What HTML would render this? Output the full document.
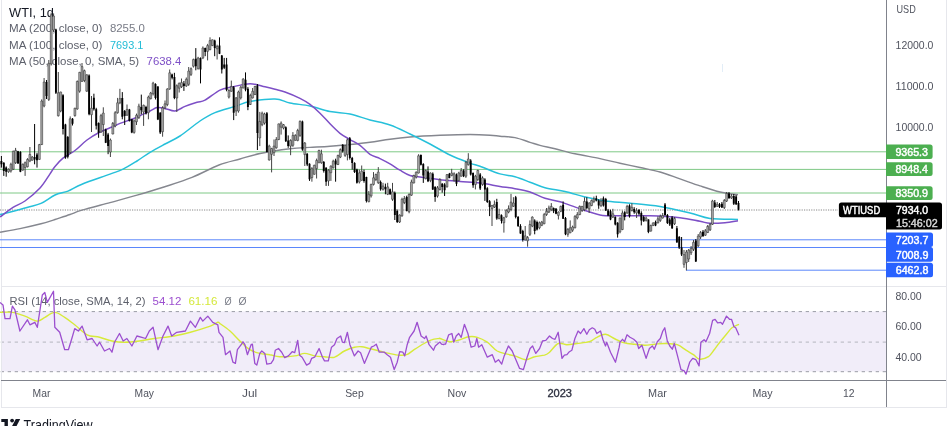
<!DOCTYPE html>
<html><head><meta charset="utf-8"><style>
html,body{margin:0;padding:0;background:#fff;width:949px;height:426px;overflow:hidden}
svg{display:block;font-family:"Liberation Sans",sans-serif;will-change:transform}
</style></head><body>
<svg width="949" height="426" viewBox="0 0 949 426" style="display:block">
<rect width="949" height="426" fill="#fff"/>
<rect x="1" y="311.5" width="885" height="60" fill="#f1edf9"/>
<line x1="0.7" y1="311.6" x2="886" y2="311.6" stroke="#9a9ca6" stroke-width="1" stroke-dasharray="3.3 3.7"/>
<line x1="0.7" y1="342.1" x2="886" y2="342.1" stroke="#b4b6be" stroke-width="1" stroke-dasharray="3.3 3.7"/>
<line x1="0.7" y1="371.7" x2="886" y2="371.7" stroke="#9a9ca6" stroke-width="1" stroke-dasharray="3.3 3.7"/>
<line x1="1.5" y1="0" x2="1.5" y2="407" stroke="#e6e7ec" stroke-width="1"/>
<line x1="946.5" y1="0" x2="946.5" y2="407" stroke="#e6e7ec" stroke-width="1"/>
<line x1="1" y1="407.5" x2="947" y2="407.5" stroke="#e6e7ec" stroke-width="1"/>
<line x1="1" y1="286.5" x2="946" y2="286.5" stroke="#e6e7ec" stroke-width="1"/>
<line x1="0" y1="151.8" x2="886" y2="151.8" stroke="#7fc986" stroke-width="1"/>
<line x1="0" y1="169.4" x2="886" y2="169.4" stroke="#7fc986" stroke-width="1"/>
<line x1="0" y1="193.0" x2="886" y2="193.0" stroke="#7fc986" stroke-width="1"/>
<line x1="0" y1="239.8" x2="886" y2="239.8" stroke="#5b87fb" stroke-width="1"/>
<line x1="0" y1="247.5" x2="886" y2="247.5" stroke="#5b87fb" stroke-width="1"/>
<line x1="686" y1="270.2" x2="886" y2="270.2" stroke="#5b87fb" stroke-width="1"/>
<line x1="0" y1="210" x2="838" y2="210" stroke="#888" stroke-width="1" stroke-dasharray="1.2 1.2"/>
<path d="M0.0 232.2C3.3 231.6 13.2 230.0 20.0 228.6C26.8 227.2 35.2 225.3 41.0 223.8C46.8 222.3 50.2 221.1 55.0 219.5C59.8 217.9 65.5 216.1 70.0 214.5C74.5 212.9 75.3 212.2 82.0 210.2C88.7 208.2 100.8 205.1 110.0 202.6C119.2 200.1 128.0 197.8 137.0 195.2C146.0 192.6 154.8 190.0 164.0 187.0C173.2 184.0 182.8 181.1 192.0 177.4C201.2 173.7 211.0 168.1 219.0 165.0C227.0 161.9 233.2 160.9 240.0 159.0C246.8 157.1 251.7 155.2 260.0 153.5C268.3 151.8 281.7 149.8 290.0 148.8C298.3 147.8 303.3 147.8 310.0 147.4C316.7 147.0 323.3 146.7 330.0 146.2C336.7 145.7 343.3 145.2 350.0 144.5C356.7 143.8 363.3 143.1 370.0 142.2C376.7 141.3 383.3 140.1 390.0 139.2C396.7 138.3 401.7 137.7 410.0 137.0C418.3 136.3 430.0 135.7 440.0 135.3C450.0 134.9 461.7 134.5 470.0 134.5C478.3 134.5 485.0 134.9 490.0 135.2C495.0 135.5 495.8 135.8 500.0 136.2C504.2 136.6 510.0 136.6 515.0 137.6C520.0 138.6 525.8 141.0 530.0 142.3C534.2 143.6 535.8 144.3 540.0 145.4C544.2 146.5 549.2 147.3 555.0 148.7C560.8 150.1 567.5 152.2 575.0 153.8C582.5 155.5 592.5 157.0 600.0 158.6C607.5 160.2 613.3 161.7 620.0 163.2C626.7 164.7 633.3 166.0 640.0 167.5C646.7 169.0 653.3 170.1 660.0 172.0C666.7 173.9 673.3 176.6 680.0 178.9C686.7 181.2 693.3 183.7 700.0 185.9C706.7 188.1 713.7 190.5 720.0 192.0C726.3 193.5 735.0 194.3 738.0 194.8" fill="none" stroke="#85878f" stroke-width="1.4"/>
<path d="M0.0 214.6C4.5 213.4 20.2 209.4 27.0 207.5C33.8 205.6 36.3 205.5 41.0 203.4C45.7 201.3 50.5 197.1 55.0 195.0C59.5 192.9 63.5 192.9 68.0 191.1C72.5 189.3 75.0 187.0 82.0 184.2C89.0 181.4 103.2 176.6 110.0 174.1C116.8 171.6 118.5 171.4 123.0 169.2C127.5 167.0 132.5 163.8 137.0 161.0C141.5 158.2 145.3 155.1 150.0 152.3C154.7 149.5 160.0 146.7 165.0 144.0C170.0 141.3 174.2 139.8 180.0 136.0C185.8 132.2 194.2 124.9 200.0 121.0C205.8 117.1 209.2 115.0 215.0 112.6C220.8 110.2 229.2 108.2 235.0 106.4C240.8 104.6 243.3 102.7 250.0 101.5C256.7 100.3 268.3 98.8 275.0 99.0C281.7 99.2 284.2 101.8 290.0 103.0C295.8 104.2 303.3 104.6 310.0 106.0C316.7 107.4 323.3 110.2 330.0 111.5C336.7 112.8 343.3 112.6 350.0 114.0C356.7 115.4 363.3 118.2 370.0 120.0C376.7 121.8 383.3 122.7 390.0 125.0C396.7 127.3 403.3 130.8 410.0 134.0C416.7 137.2 423.3 140.5 430.0 144.0C436.7 147.5 443.3 151.8 450.0 155.0C456.7 158.2 465.0 161.2 470.0 163.1C475.0 165.0 475.0 164.5 480.0 166.3C485.0 168.1 494.2 172.2 500.0 173.9C505.8 175.6 510.0 175.3 515.0 176.7C520.0 178.1 525.0 180.3 530.0 182.2C535.0 184.0 539.2 186.2 545.0 187.8C550.8 189.4 558.3 190.0 565.0 191.5C571.7 193.0 578.3 195.4 585.0 197.0C591.7 198.6 597.5 200.0 605.0 201.0C612.5 202.0 620.8 202.3 630.0 203.2C639.2 204.1 650.0 204.9 660.0 206.5C670.0 208.1 681.7 211.0 690.0 213.0C698.3 215.0 702.0 217.4 710.0 218.5C718.0 219.6 733.3 219.2 738.0 219.4" fill="none" stroke="#26c0da" stroke-width="1.5"/>
<path d="M0.0 217.0C2.2 215.4 8.8 210.1 13.0 207.4C17.2 204.7 20.5 204.2 25.0 201.0C29.5 197.8 35.8 192.5 40.0 188.0C44.2 183.5 47.5 177.5 50.0 173.9C52.5 170.3 52.8 169.1 55.0 166.5C57.2 163.9 59.7 160.9 63.0 158.2C66.3 155.5 71.0 153.5 75.0 150.5C79.0 147.5 82.8 143.1 87.0 140.0C91.2 136.9 95.8 134.2 100.0 132.0C104.2 129.8 108.7 128.4 112.0 127.0C115.3 125.6 116.2 124.9 120.0 123.4C123.8 121.9 130.0 120.1 135.0 118.0C140.0 115.9 146.3 112.7 150.0 111.0C153.7 109.3 154.5 108.0 157.0 107.6C159.5 107.2 162.0 107.8 165.0 108.4C168.0 109.0 171.7 111.3 175.0 111.0C178.3 110.7 181.3 107.9 185.0 106.4C188.7 104.9 193.7 103.2 197.0 102.2C200.3 101.2 201.2 102.2 205.0 100.2C208.8 98.2 215.5 92.3 220.0 90.1C224.5 87.9 227.0 88.1 232.0 87.0C237.0 85.9 244.5 83.7 250.0 83.7C255.5 83.7 260.8 85.9 265.0 86.8C269.2 87.7 271.7 88.3 275.0 89.2C278.3 90.1 280.8 90.5 285.0 92.0C289.2 93.5 295.8 96.3 300.0 98.4C304.2 100.5 306.7 101.9 310.0 104.4C313.3 106.9 316.7 110.0 320.0 113.2C323.3 116.4 326.7 120.4 330.0 123.8C333.3 127.2 336.7 130.7 340.0 133.3C343.3 135.9 346.7 137.6 350.0 139.6C353.3 141.6 356.7 142.8 360.0 145.3C363.3 147.8 366.7 152.2 370.0 154.4C373.3 156.6 376.7 157.0 380.0 158.6C383.3 160.2 386.7 162.0 390.0 163.9C393.3 165.8 396.7 168.3 400.0 170.2C403.3 172.1 406.7 174.4 410.0 175.5C413.3 176.6 415.0 176.3 420.0 177.0C425.0 177.7 433.3 179.0 440.0 179.7C446.7 180.4 453.3 180.8 460.0 181.4C466.7 182.0 473.3 182.3 480.0 183.1C486.7 183.9 494.2 185.5 500.0 186.4C505.8 187.3 510.0 187.8 515.0 188.7C520.0 189.6 525.0 190.4 530.0 192.0C535.0 193.6 540.0 196.6 545.0 198.2C550.0 199.8 554.2 200.0 560.0 201.8C565.8 203.6 573.3 206.6 580.0 208.8C586.7 211.0 593.3 213.7 600.0 214.9C606.7 216.1 611.7 215.7 620.0 215.8C628.3 216.0 640.0 215.5 650.0 215.8C660.0 216.1 671.7 216.8 680.0 217.7C688.3 218.6 695.0 220.4 700.0 221.3C705.0 222.2 705.8 223.1 710.0 223.3C714.2 223.5 720.3 223.1 725.0 222.7C729.7 222.3 735.8 221.1 738.0 220.8" fill="none" stroke="#7d4fc6" stroke-width="1.5"/>
<g font-family="Liberation Sans, sans-serif">
<text x="9.1" y="17.0" font-size="13" fill="#131722" font-weight="normal" textLength="44.8" lengthAdjust="spacingAndGlyphs">WTI, 1d</text>
<text x="9.1" y="32.2" font-size="11" fill="#5d606b" font-weight="normal" textLength="93.3" lengthAdjust="spacingAndGlyphs">MA (200, close, 0)</text>
<text x="109.9" y="32.2" font-size="11" fill="#787b86" font-weight="normal" textLength="34.9" lengthAdjust="spacingAndGlyphs">8255.0</text>
<text x="9.1" y="48.7" font-size="11" fill="#5d606b" font-weight="normal" textLength="93.3" lengthAdjust="spacingAndGlyphs">MA (100, close, 0)</text>
<text x="109.9" y="48.7" font-size="11" fill="#22bcd6" font-weight="normal" textLength="33.5" lengthAdjust="spacingAndGlyphs">7693.1</text>
<text x="9.1" y="65.2" font-size="11" fill="#5d606b" font-weight="normal" textLength="130.0" lengthAdjust="spacingAndGlyphs">MA (50, close, 0, SMA, 5)</text>
<text x="146.6" y="65.2" font-size="11" fill="#7d4fc6" font-weight="normal" textLength="34.8" lengthAdjust="spacingAndGlyphs">7638.4</text>
<text x="9.5" y="305.1" font-size="11" fill="#5d606b" font-weight="normal" textLength="135.9" lengthAdjust="spacingAndGlyphs">RSI (14, close, SMA, 14, 2)</text>
<text x="152.6" y="305.1" font-size="11" fill="#9c4fcf" font-weight="normal" textLength="28.8" lengthAdjust="spacingAndGlyphs">54.12</text>
<text x="188.4" y="305.1" font-size="11" fill="#d4e83a" font-weight="normal" textLength="29.0" lengthAdjust="spacingAndGlyphs">61.16</text>
<text x="224.5" y="305.1" font-size="11" fill="#787b86" font-weight="normal" textLength="7.1" lengthAdjust="spacingAndGlyphs">&#216;</text>
<text x="238.6" y="305.1" font-size="11" fill="#787b86" font-weight="normal" textLength="8.0" lengthAdjust="spacingAndGlyphs">&#216;</text>
</g>
<path d="M-0.9 158.0V172.0 M8.5 168.4V172.8 M10.9 162.7V172.6 M13.3 150.7V169.9 M15.6 147.9V164.0 M22.8 163.5V170.7 M25.1 161.5V175.9 M27.5 158.2V167.4 M29.9 147.0V162.2 M32.2 156.0V160.7 M39.4 143.9V159.9 M41.7 99.4V145.0 M44.1 78.0V107.3 M48.8 60.0V101.0 M51.2 12.7V65.5 M53.6 13.4V32.0 M58.3 72.0V116.5 M60.7 91.7V112.3 M70.2 116.4V154.0 M74.9 107.8V116.7 M77.3 80.5V109.7 M79.6 71.9V92.7 M82.0 63.0V81.7 M84.4 69.6V82.2 M86.8 74.3V91.8 M91.5 96.0V132.0 M101.0 113.9V132.8 M103.3 107.3V136.0 M110.4 138.5V157.0 M112.8 122.0V134.3 M115.2 111.1V127.3 M117.6 97.9V113.7 M119.9 88.8V104.2 M127.0 104.5V115.8 M134.1 119.5V133.7 M136.5 113.6V125.0 M138.9 103.7V119.0 M143.6 104.6V125.9 M148.4 95.6V119.3 M150.7 91.9V99.4 M153.1 81.8V95.5 M162.6 106.2V136.7 M165.0 100.5V109.3 M167.3 88.2V106.2 M169.7 69.5V89.8 M176.8 84.4V112.0 M179.2 82.6V92.5 M181.5 78.5V88.0 M186.3 77.5V86.9 M188.7 67.0V85.9 M191.0 67.4V76.0 M193.4 58.6V67.6 M198.1 56.8V69.5 M202.9 46.4V59.1 M207.6 43.9V60.4 M210.0 37.3V50.2 M212.4 39.5V46.1 M217.1 44.7V59.5 M228.9 89.2V98.5 M231.3 80.6V91.7 M236.1 97.1V116.0 M238.4 90.6V112.7 M240.8 85.7V99.5 M243.2 78.2V88.4 M250.3 93.7V105.0 M252.6 88.0V98.5 M255.0 85.9V95.0 M259.8 111.9V146.1 M262.1 111.6V126.2 M264.5 112.7V124.6 M269.2 144.7V160.6 M271.6 147.8V172.4 M274.0 139.5V156.0 M276.3 137.1V148.7 M278.7 123.6V140.2 M281.1 121.4V134.6 M283.5 124.0V129.4 M290.6 139.3V155.2 M292.9 132.1V146.9 M295.3 134.2V140.7 M297.7 128.8V141.3 M300.0 120.4V136.9 M304.8 142.0V166.0 M311.9 167.1V181.7 M314.3 164.7V174.6 M316.6 158.6V178.5 M319.0 149.7V163.1 M321.4 149.7V163.8 M328.5 169.2V185.9 M330.9 165.3V180.9 M333.2 159.7V168.5 M338.0 154.7V165.1 M340.3 148.4V158.1 M345.1 145.2V156.9 M347.4 138.5V160.4 M359.3 169.6V183.5 M361.7 165.5V180.7 M368.8 191.0V202.3 M371.1 183.7V197.6 M373.5 172.1V185.5 M375.9 173.6V181.1 M378.3 167.1V183.9 M383.0 182.8V190.6 M387.7 182.8V195.1 M392.5 182.9V200.9 M399.6 214.4V223.0 M402.0 197.7V216.8 M404.3 196.0V204.1 M409.1 193.4V213.3 M411.4 179.6V195.9 M413.8 174.7V183.5 M416.2 171.4V178.5 M418.6 154.2V173.5 M425.7 169.5V179.3 M430.4 172.4V182.2 M437.5 186.0V197.6 M439.9 178.2V190.5 M447.0 174.1V187.5 M451.7 168.8V176.3 M454.1 172.3V181.7 M458.8 171.8V181.4 M461.2 168.0V176.7 M465.9 160.9V177.9 M468.3 153.2V165.6 M475.4 174.8V189.4 M477.8 169.7V181.1 M482.5 176.3V185.8 M492.0 205.0V226.0 M494.4 200.5V208.0 M499.1 208.7V219.3 M503.9 216.8V232.6 M506.2 209.2V217.8 M508.6 205.4V213.3 M511.0 193.9V211.2 M513.4 197.2V206.9 M525.2 226.0V240.5 M527.6 236.0V246.7 M529.9 220.4V236.0 M532.3 216.3V227.2 M539.4 221.5V229.3 M541.8 220.9V226.2 M544.2 212.9V224.3 M546.5 208.0V215.9 M548.9 205.6V213.0 M551.3 203.1V211.1 M558.4 211.4V219.5 M560.8 205.6V212.2 M567.9 228.1V236.8 M570.2 220.4V233.3 M572.6 225.6V231.9 M575.0 215.2V228.4 M577.3 212.1V219.4 M579.7 205.5V215.2 M582.1 205.9V212.0 M584.5 197.3V211.2 M589.2 202.1V213.0 M591.6 199.5V206.2 M593.9 196.5V203.1 M601.0 198.2V207.1 M612.9 208.8V218.0 M620.0 217.6V233.3 M622.4 210.6V230.2 M627.1 204.8V213.9 M631.9 203.2V211.4 M636.6 208.1V218.0 M646.1 216.5V221.6 M650.8 224.7V231.6 M653.2 222.4V226.1 M657.9 216.3V223.4 M660.3 214.6V221.9 M662.7 213.0V218.6 M674.5 217.0V225.0 M684.0 250.0V267.8 M686.4 250.0V270.4 M688.7 249.0V262.0 M691.1 246.0V255.0 M693.5 240.0V251.0 M698.2 234.0V247.0 M700.6 231.0V239.0 M705.3 229.0V236.0 M707.7 225.0V233.0 M710.1 223.0V231.0 M712.4 199.8V225.0 M717.2 202.0V207.0 M724.3 199.0V209.0 M726.6 192.0V202.0 M731.4 194.0V199.0" stroke="#444" stroke-width="1" fill="none"/>
<path d="M1.4 156.0V167.6 M3.8 162.2V175.9 M6.2 166.4V176.7 M18.0 150.9V163.8 M20.4 151.2V172.2 M34.6 124.0V164.3 M37.0 152.8V167.6 M46.5 80.0V99.0 M55.9 28.7V94.0 M63.0 94.2V134.5 M65.4 123.8V158.8 M67.8 136.0V158.4 M72.5 118.1V125.5 M89.1 74.4V115.3 M93.9 93.7V110.6 M96.2 107.8V129.5 M98.6 122.4V137.8 M105.7 128.7V143.1 M108.1 132.9V154.2 M122.3 92.1V119.3 M124.7 110.0V125.0 M129.4 108.9V121.5 M131.8 118.9V133.2 M141.3 94.6V114.3 M146.0 105.8V114.5 M155.5 83.3V99.5 M157.9 86.2V120.1 M160.2 112.1V134.0 M172.1 73.7V79.4 M174.4 72.8V99.2 M183.9 81.0V90.9 M195.8 48.1V70.3 M200.5 57.4V83.4 M205.2 47.6V56.2 M214.7 39.7V56.2 M219.5 37.3V54.1 M221.8 55.0V73.5 M224.2 57.9V69.1 M226.6 57.9V91.3 M233.7 86.0V120.1 M245.5 72.4V91.3 M247.9 87.1V110.2 M257.4 84.0V150.0 M266.9 112.0V152.3 M285.8 126.3V142.0 M288.2 135.4V147.8 M302.4 120.6V150.8 M307.2 153.2V166.1 M309.5 163.3V180.9 M323.8 161.0V172.6 M326.1 167.2V185.9 M335.6 158.7V181.7 M342.7 144.2V152.6 M349.8 137.0V159.6 M352.2 156.9V169.6 M354.6 162.2V173.0 M356.9 168.7V183.6 M364.0 169.6V182.7 M366.4 176.7V202.5 M380.6 180.5V190.7 M385.4 183.6V194.3 M390.1 188.5V194.8 M394.8 191.5V220.0 M397.2 209.5V223.0 M406.7 195.7V211.4 M420.9 154.4V165.5 M423.3 163.2V182.9 M428.0 166.4V182.1 M432.8 172.4V190.0 M435.1 186.1V201.8 M442.2 183.1V192.7 M444.6 183.2V196.0 M449.4 172.9V178.3 M456.5 173.5V186.1 M463.6 169.3V177.1 M470.7 159.2V175.5 M473.1 172.4V187.8 M480.2 173.1V190.0 M484.9 178.2V200.9 M487.3 187.2V202.9 M489.6 200.1V216.1 M496.8 198.8V219.8 M501.5 214.4V223.5 M515.7 195.9V218.4 M518.1 216.0V227.0 M520.5 224.2V233.8 M522.8 229.8V241.6 M534.7 219.3V234.3 M537.0 220.6V230.5 M553.6 207.5V213.1 M556.0 208.0V214.2 M563.1 201.4V219.0 M565.5 217.0V235.2 M586.8 197.3V209.3 M596.3 195.7V201.4 M598.7 199.3V208.8 M603.4 196.5V206.6 M605.8 197.9V211.0 M608.1 208.9V216.2 M610.5 209.7V220.2 M615.3 216.4V225.4 M617.6 222.2V237.6 M624.7 211.2V220.4 M629.5 204.3V217.6 M634.2 207.2V213.8 M639.0 209.3V215.3 M641.3 211.3V225.4 M643.7 215.6V221.8 M648.4 219.3V233.2 M655.5 220.6V226.2 M665.0 203.0V216.0 M667.4 214.0V224.0 M669.8 218.0V226.0 M672.1 216.0V229.0 M676.9 226.0V243.0 M679.2 236.0V249.0 M681.6 237.0V256.0 M695.8 239.0V262.0 M703.0 230.0V237.0 M714.8 200.0V208.0 M719.5 203.0V208.0 M721.9 202.0V208.0 M729.0 192.0V199.0 M733.8 194.0V205.0 M736.1 195.0V205.0 M738.5 201.0V210.5" stroke="#000" stroke-width="1" fill="none"/>
<path d="M-1.89 161.5h1.9v7.0h-1.9z M7.59 169.3h1.9v2.4h-1.9z M9.96 164.3h1.9v6.7h-1.9z M12.33 151.2h1.9v18.1h-1.9z M14.70 150.4h1.9v12.3h-1.9z M21.81 164.3h1.9v5.8h-1.9z M24.18 162.7h1.9v4.9h-1.9z M26.55 159.4h1.9v7.4h-1.9z M28.92 154.5h1.9v6.5h-1.9z M31.29 157.0h1.9v3.2h-1.9z M38.40 144.6h1.9v14.8h-1.9z M40.77 101.0h1.9v43.6h-1.9z M43.14 82.0h1.9v24.0h-1.9z M47.88 63.3h1.9v36.1h-1.9z M50.25 14.8h1.9v49.2h-1.9z M52.62 16.0h1.9v14.0h-1.9z M57.36 92.8h1.9v23.0h-1.9z M59.73 92.0h1.9v19.0h-1.9z M69.21 118.8h1.9v33.8h-1.9z M73.95 108.2h1.9v7.4h-1.9z M76.32 81.4h1.9v27.6h-1.9z M78.69 72.3h1.9v18.9h-1.9z M81.06 66.6h1.9v14.8h-1.9z M83.43 70.7h1.9v9.8h-1.9z M85.80 74.8h1.9v16.4h-1.9z M90.54 108.2h1.9v6.5h-1.9z M100.02 115.6h1.9v16.4h-1.9z M102.39 113.1h1.9v11.5h-1.9z M109.50 140.0h1.9v12.0h-1.9z M111.87 123.4h1.9v10.6h-1.9z M114.24 112.7h1.9v13.2h-1.9z M116.61 102.8h1.9v9.9h-1.9z M118.98 98.7h1.9v4.1h-1.9z M126.09 109.4h1.9v5.8h-1.9z M133.20 120.9h1.9v11.5h-1.9z M135.57 115.2h1.9v6.5h-1.9z M137.94 106.1h1.9v11.5h-1.9z M142.68 105.3h1.9v6.6h-1.9z M147.42 97.1h1.9v15.6h-1.9z M149.79 93.0h1.9v5.7h-1.9z M152.16 83.1h1.9v10.7h-1.9z M161.64 107.9h1.9v23.8h-1.9z M164.01 103.8h1.9v4.1h-1.9z M166.38 89.0h1.9v15.6h-1.9z M168.75 72.8h1.9v16.2h-1.9z M175.86 85.7h1.9v12.3h-1.9z M178.23 83.2h1.9v5.0h-1.9z M180.60 82.6h1.9v4.1h-1.9z M185.34 79.3h1.9v6.6h-1.9z M187.71 71.1h1.9v13.2h-1.9z M190.08 68.7h1.9v5.7h-1.9z M192.45 59.6h1.9v6.6h-1.9z M197.19 58.0h1.9v10.7h-1.9z M201.93 48.0h1.9v9.9h-1.9z M206.67 45.6h1.9v5.7h-1.9z M209.04 40.6h1.9v9.1h-1.9z M211.41 39.8h1.9v5.8h-1.9z M216.15 46.4h1.9v2.4h-1.9z M228.00 90.5h1.9v6.6h-1.9z M230.37 86.4h1.9v4.9h-1.9z M235.11 97.9h1.9v13.1h-1.9z M237.48 92.1h1.9v18.9h-1.9z M239.85 87.2h1.9v10.7h-1.9z M242.22 79.0h1.9v9.0h-1.9z M249.33 95.4h1.9v9.1h-1.9z M251.70 91.3h1.9v6.6h-1.9z M254.07 86.4h1.9v8.2h-1.9z M258.81 121.4h1.9v16.5h-1.9z M261.18 113.2h1.9v11.5h-1.9z M263.55 114.0h1.9v9.1h-1.9z M268.29 146.1h1.9v13.9h-1.9z M270.66 148.6h1.9v5.7h-1.9z M273.03 146.1h1.9v6.6h-1.9z M275.40 139.5h1.9v8.3h-1.9z M277.77 123.9h1.9v15.6h-1.9z M280.14 123.1h1.9v4.1h-1.9z M282.51 124.7h1.9v3.3h-1.9z M289.62 140.4h1.9v5.7h-1.9z M291.99 135.4h1.9v9.9h-1.9z M294.36 135.4h1.9v5.0h-1.9z M296.73 130.5h1.9v9.9h-1.9z M299.10 121.4h1.9v14.0h-1.9z M303.84 143.1h1.9v11.5h-1.9z M310.95 168.6h1.9v9.0h-1.9z M313.32 165.3h1.9v9.0h-1.9z M315.69 160.4h1.9v8.2h-1.9z M318.06 150.5h1.9v12.3h-1.9z M320.43 153.8h1.9v9.0h-1.9z M327.54 170.2h1.9v10.7h-1.9z M329.91 166.1h1.9v6.6h-1.9z M332.28 161.2h1.9v6.6h-1.9z M337.02 155.4h1.9v9.1h-1.9z M339.39 149.7h1.9v7.4h-1.9z M344.13 145.6h1.9v9.8h-1.9z M346.50 139.8h1.9v14.8h-1.9z M358.35 172.9h1.9v9.0h-1.9z M360.72 171.2h1.9v9.1h-1.9z M367.83 194.3h1.9v7.4h-1.9z M370.20 184.4h1.9v11.5h-1.9z M372.57 177.8h1.9v6.6h-1.9z M374.94 174.5h1.9v5.0h-1.9z M377.31 172.1h1.9v10.7h-1.9z M382.05 186.0h1.9v3.3h-1.9z M386.79 186.9h1.9v7.4h-1.9z M391.53 191.8h1.9v7.5h-1.9z M398.64 215.0h1.9v7.0h-1.9z M401.01 199.3h1.9v16.5h-1.9z M403.38 198.5h1.9v4.1h-1.9z M408.12 194.4h1.9v17.3h-1.9z M410.49 182.1h1.9v13.1h-1.9z M412.86 175.5h1.9v7.4h-1.9z M415.23 172.2h1.9v4.9h-1.9z M417.60 155.8h1.9v17.2h-1.9z M424.71 170.6h1.9v8.2h-1.9z M429.45 173.0h1.9v7.4h-1.9z M436.56 187.8h1.9v8.3h-1.9z M438.93 179.6h1.9v9.9h-1.9z M446.04 174.6h1.9v12.3h-1.9z M450.78 173.0h1.9v2.4h-1.9z M453.15 173.8h1.9v6.6h-1.9z M457.89 173.0h1.9v7.4h-1.9z M460.26 170.5h1.9v5.7h-1.9z M465.00 162.3h1.9v13.9h-1.9z M467.37 159.0h1.9v5.7h-1.9z M474.48 176.2h1.9v8.3h-1.9z M476.85 170.5h1.9v9.0h-1.9z M481.59 177.9h1.9v6.6h-1.9z M491.07 205.4h1.9v3.3h-1.9z M493.44 204.6h1.9v2.5h-1.9z M498.18 214.5h1.9v4.1h-1.9z M502.92 217.8h1.9v4.9h-1.9z M505.29 210.4h1.9v6.5h-1.9z M507.66 208.7h1.9v3.3h-1.9z M510.03 202.1h1.9v7.4h-1.9z M512.40 203.0h1.9v3.3h-1.9z M524.25 235.9h1.9v4.1h-1.9z M526.62 237.5h1.9v3.3h-1.9z M528.99 224.5h1.9v9.8h-1.9z M531.36 217.1h1.9v9.0h-1.9z M538.47 222.8h1.9v5.0h-1.9z M540.84 222.0h1.9v3.3h-1.9z M543.21 214.6h1.9v9.1h-1.9z M545.58 211.3h1.9v3.3h-1.9z M547.95 208.0h1.9v4.1h-1.9z M550.32 206.4h1.9v3.3h-1.9z M557.43 212.1h1.9v3.3h-1.9z M559.80 206.4h1.9v4.9h-1.9z M566.91 229.4h1.9v4.9h-1.9z M569.28 227.8h1.9v4.9h-1.9z M571.65 227.0h1.9v3.2h-1.9z M574.02 216.3h1.9v11.5h-1.9z M576.39 214.6h1.9v3.3h-1.9z M578.76 206.4h1.9v8.2h-1.9z M581.13 206.4h1.9v4.1h-1.9z M583.50 201.4h1.9v8.3h-1.9z M588.24 203.1h1.9v5.7h-1.9z M590.61 200.6h1.9v5.0h-1.9z M592.98 199.0h1.9v2.4h-1.9z M600.09 201.4h1.9v4.2h-1.9z M611.94 213.8h1.9v3.3h-1.9z M619.05 217.9h1.9v14.0h-1.9z M621.42 213.0h1.9v16.5h-1.9z M626.16 206.4h1.9v6.6h-1.9z M630.90 207.3h1.9v3.3h-1.9z M635.64 210.6h1.9v2.4h-1.9z M645.12 218.0h1.9v2.4h-1.9z M649.86 225.4h1.9v5.7h-1.9z M652.23 222.9h1.9v2.5h-1.9z M656.97 218.8h1.9v4.1h-1.9z M659.34 216.3h1.9v4.1h-1.9z M661.71 215.5h1.9v2.5h-1.9z M673.56 218.5h1.9v5.3h-1.9z M683.04 254.6h1.9v9.7h-1.9z M685.41 252.0h1.9v10.5h-1.9z M687.78 250.2h1.9v8.8h-1.9z M690.15 248.4h1.9v4.4h-1.9z M692.52 242.3h1.9v7.0h-1.9z M697.26 236.1h1.9v9.7h-1.9z M699.63 232.6h1.9v4.4h-1.9z M704.37 230.8h1.9v4.4h-1.9z M706.74 226.4h1.9v6.2h-1.9z M709.11 224.6h1.9v5.3h-1.9z M711.48 201.1h1.9v23.2h-1.9z M716.22 204.3h1.9v2.0h-1.9z M723.33 200.5h1.9v7.1h-1.9z M725.70 193.4h1.9v7.7h-1.9z M730.44 196.0h1.9v1.9h-1.9z" fill="#a8a8a8" stroke="#2a2a2a" stroke-width="0.5"/>
<path d="M0.48 161.0h1.9v3.3h-1.9z M2.85 162.7h1.9v8.3h-1.9z M5.22 167.6h1.9v4.1h-1.9z M17.07 151.2h1.9v12.3h-1.9z M19.44 152.0h1.9v19.7h-1.9z M33.66 157.0h1.9v2.4h-1.9z M36.03 154.5h1.9v5.7h-1.9z M45.51 82.0h1.9v14.0h-1.9z M54.99 29.6h1.9v63.2h-1.9z M62.10 95.3h1.9v33.7h-1.9z M64.47 124.6h1.9v32.9h-1.9z M66.84 137.0h1.9v19.7h-1.9z M71.58 118.8h1.9v5.0h-1.9z M88.17 75.6h1.9v38.6h-1.9z M92.91 97.8h1.9v11.5h-1.9z M95.28 109.3h1.9v16.4h-1.9z M97.65 123.0h1.9v9.8h-1.9z M104.76 129.5h1.9v13.2h-1.9z M107.13 134.5h1.9v11.5h-1.9z M121.35 97.9h1.9v18.9h-1.9z M123.72 111.0h1.9v5.0h-1.9z M128.46 109.4h1.9v11.5h-1.9z M130.83 119.3h1.9v13.1h-1.9z M140.31 106.9h1.9v3.3h-1.9z M145.05 106.9h1.9v6.6h-1.9z M154.53 83.9h1.9v14.0h-1.9z M156.90 86.5h1.9v32.9h-1.9z M159.27 112.8h1.9v19.8h-1.9z M171.12 74.4h1.9v3.3h-1.9z M173.49 76.9h1.9v21.1h-1.9z M182.97 83.5h1.9v2.4h-1.9z M194.82 58.8h1.9v7.4h-1.9z M199.56 58.0h1.9v11.4h-1.9z M204.30 48.0h1.9v4.1h-1.9z M213.78 40.6h1.9v7.4h-1.9z M218.52 45.6h1.9v8.2h-1.9z M220.89 55.4h1.9v14.0h-1.9z M223.26 64.5h1.9v3.3h-1.9z M225.63 64.5h1.9v25.5h-1.9z M232.74 87.2h1.9v25.5h-1.9z M244.59 79.8h1.9v9.9h-1.9z M246.96 88.8h1.9v18.1h-1.9z M256.44 85.6h1.9v47.4h-1.9z M265.92 113.2h1.9v38.7h-1.9z M284.88 127.2h1.9v14.0h-1.9z M287.25 140.4h1.9v5.7h-1.9z M301.47 121.4h1.9v28.0h-1.9z M306.21 153.8h1.9v10.7h-1.9z M308.58 163.7h1.9v15.6h-1.9z M322.80 162.0h1.9v9.1h-1.9z M325.17 167.8h1.9v13.9h-1.9z M334.65 160.4h1.9v4.1h-1.9z M341.76 144.7h1.9v6.6h-1.9z M348.87 138.2h1.9v19.9h-1.9z M351.24 158.1h1.9v4.9h-1.9z M353.61 163.0h1.9v9.1h-1.9z M355.98 169.6h1.9v13.2h-1.9z M363.09 172.1h1.9v9.0h-1.9z M365.46 177.0h1.9v23.9h-1.9z M379.68 181.9h1.9v7.4h-1.9z M384.42 186.9h1.9v2.4h-1.9z M389.16 189.3h1.9v5.0h-1.9z M393.90 192.8h1.9v22.2h-1.9z M396.27 210.9h1.9v11.1h-1.9z M405.75 196.9h1.9v14.0h-1.9z M419.97 154.9h1.9v9.9h-1.9z M422.34 164.0h1.9v11.5h-1.9z M427.08 171.4h1.9v9.9h-1.9z M431.82 173.8h1.9v15.7h-1.9z M434.19 187.0h1.9v9.9h-1.9z M441.30 183.7h1.9v3.2h-1.9z M443.67 184.5h1.9v5.7h-1.9z M448.41 173.8h1.9v4.1h-1.9z M455.52 174.6h1.9v9.1h-1.9z M462.63 170.5h1.9v5.7h-1.9z M469.74 160.6h1.9v14.0h-1.9z M472.11 173.0h1.9v12.3h-1.9z M479.22 174.6h1.9v14.0h-1.9z M483.96 179.5h1.9v9.9h-1.9z M486.33 188.2h1.9v13.9h-1.9z M488.70 201.3h1.9v5.8h-1.9z M495.81 202.1h1.9v16.5h-1.9z M500.55 215.3h1.9v5.8h-1.9z M514.77 197.2h1.9v19.7h-1.9z M517.14 216.9h1.9v9.1h-1.9z M519.51 226.0h1.9v7.4h-1.9z M521.88 230.9h1.9v9.1h-1.9z M533.73 220.4h1.9v10.7h-1.9z M536.10 222.0h1.9v7.4h-1.9z M552.69 208.0h1.9v3.3h-1.9z M555.06 208.8h1.9v5.0h-1.9z M562.17 204.7h1.9v14.0h-1.9z M564.54 217.9h1.9v16.4h-1.9z M585.87 201.4h1.9v6.6h-1.9z M595.35 198.2h1.9v2.4h-1.9z M597.72 200.6h1.9v5.0h-1.9z M602.46 198.2h1.9v7.4h-1.9z M604.83 199.0h1.9v11.5h-1.9z M607.20 210.5h1.9v4.9h-1.9z M609.57 211.3h1.9v8.2h-1.9z M614.31 217.1h1.9v7.4h-1.9z M616.68 222.8h1.9v11.5h-1.9z M623.79 212.2h1.9v4.9h-1.9z M628.53 205.6h1.9v10.7h-1.9z M633.27 208.9h1.9v3.3h-1.9z M638.01 209.7h1.9v4.1h-1.9z M640.38 213.0h1.9v7.4h-1.9z M642.75 217.1h1.9v4.2h-1.9z M647.49 219.6h1.9v12.3h-1.9z M654.60 222.1h1.9v3.3h-1.9z M664.08 204.4h1.9v10.6h-1.9z M666.45 215.0h1.9v7.9h-1.9z M668.82 219.4h1.9v5.2h-1.9z M671.19 217.6h1.9v10.6h-1.9z M675.93 228.2h1.9v14.1h-1.9z M678.30 237.0h1.9v10.5h-1.9z M680.67 247.5h1.9v7.1h-1.9z M694.89 240.5h1.9v21.1h-1.9z M702.00 231.7h1.9v4.4h-1.9z M713.85 202.4h1.9v4.5h-1.9z M718.59 204.3h1.9v2.6h-1.9z M720.96 203.7h1.9v3.9h-1.9z M728.07 193.4h1.9v4.5h-1.9z M732.81 196.0h1.9v7.7h-1.9z M735.18 196.6h1.9v7.7h-1.9z M737.55 203.0h1.9v6.5h-1.9z" fill="#000"/>
<path d="M0.0 312.4C2.1 312.4 8.3 311.8 12.4 312.4C16.6 313.0 20.7 314.7 24.9 316.1C29.0 317.6 34.0 320.9 37.3 321.1C40.7 321.3 41.9 318.8 44.8 317.4C47.7 315.9 51.4 312.4 54.8 312.4C58.1 312.4 61.4 315.3 64.7 317.4C68.0 319.4 70.9 321.9 74.7 324.8C78.4 327.7 83.0 332.7 87.1 334.8C91.3 336.9 95.4 336.2 99.6 337.3C103.7 338.3 107.8 340.2 112.0 341.0C116.1 341.8 119.9 342.2 124.4 342.2C129.0 342.2 134.4 341.6 139.4 341.0C144.4 340.4 148.5 339.3 154.3 338.5C160.1 337.7 168.2 337.1 174.2 336.0C180.2 335.0 184.4 333.9 190.4 332.3C196.4 330.6 205.7 327.7 210.3 326.1C214.9 324.4 216.2 322.7 217.8 322.3C219.4 321.9 218.0 322.1 220.0 323.6C222.0 325.0 226.6 328.1 230.0 331.0C233.3 333.9 236.6 337.9 239.9 341.0C243.2 344.1 246.5 347.6 249.9 349.7C253.2 351.8 256.5 352.6 259.8 353.4C263.1 354.3 266.5 354.1 269.8 354.7C273.1 355.2 275.6 356.5 279.7 356.7C283.9 356.9 290.5 356.5 294.7 355.9C298.8 355.4 301.3 353.4 304.6 353.4C307.9 353.4 311.3 355.4 314.6 355.9C317.9 356.5 321.2 356.5 324.5 356.7C327.8 356.9 331.2 358.1 334.5 357.2C337.8 356.2 341.1 352.6 344.4 351.0C347.8 349.3 351.5 347.9 354.4 347.2C357.3 346.5 359.4 346.5 361.9 346.7C364.4 346.9 366.4 347.8 369.3 348.5C372.2 349.2 376.0 350.1 379.3 351.0C382.6 351.8 385.9 352.7 389.2 353.4C392.6 354.1 396.3 355.0 399.2 355.2C402.1 355.4 404.2 355.6 406.7 354.7C409.1 353.8 411.2 351.6 414.1 349.7C417.0 347.8 421.2 345.1 424.1 343.5C427.0 341.8 429.1 340.6 431.5 339.8C434.0 338.9 437.6 338.7 439.0 338.5C440.4 338.3 438.2 338.0 440.0 338.5C441.8 339.0 446.6 341.5 450.0 341.7C453.3 342.0 456.8 340.6 459.9 339.8C463.0 338.9 465.7 337.2 468.6 336.8C471.5 336.4 474.2 336.4 477.3 337.3C480.4 338.2 484.0 340.0 487.3 342.2C490.6 344.5 493.9 349.0 497.2 351.0C500.6 352.9 504.3 353.4 507.2 354.2C510.1 355.0 511.6 355.0 514.7 355.9C517.8 356.8 522.5 359.5 525.9 359.7C529.2 359.8 531.5 357.4 534.6 356.7C537.7 355.9 542.0 355.9 544.5 355.2C547.0 354.4 547.2 354.1 549.5 352.2C551.8 350.2 555.3 344.7 558.2 343.5C561.1 342.2 563.8 344.7 566.9 344.7C570.0 344.7 573.2 344.0 576.9 343.5C580.6 343.0 586.0 342.8 589.3 341.7C592.6 340.7 594.1 338.5 596.8 337.3C599.5 336.0 602.6 334.1 605.5 334.3C608.4 334.5 611.9 337.4 614.2 338.5C616.5 339.6 618.2 340.5 619.2 341.0C620.2 341.5 618.6 341.3 620.0 341.7C621.4 342.2 625.0 343.1 627.5 343.5C630.0 343.9 632.0 343.9 634.9 344.2C637.8 344.5 641.6 345.2 644.9 345.2C648.2 345.2 651.5 344.5 654.8 344.2C658.2 343.9 661.1 343.4 664.8 343.5C668.5 343.6 673.7 343.6 677.2 344.7C680.8 345.9 683.3 348.5 686.0 350.2C688.6 351.9 691.1 353.2 693.4 354.7C695.7 356.2 697.2 358.8 699.6 359.2C702.1 359.5 705.9 358.3 708.4 356.7C710.8 355.0 712.5 351.8 714.6 349.2C716.6 346.6 718.7 343.6 720.8 341.0C722.9 338.4 725.2 335.7 727.0 333.5C728.9 331.3 730.0 329.3 732.0 327.8C734.0 326.3 737.8 324.9 739.0 324.3" fill="none" stroke="#d7ea3a" stroke-width="1.4"/>
<polyline points="0.0,302.4 3.0,304.9 5.0,318.6 10.0,318.6 12.4,306.2 14.9,309.9 19.9,331.0 27.4,319.8 29.9,324.8 34.8,322.3 37.3,327.3 42.3,295.0 44.8,292.5 47.3,302.4 53.5,291.2 54.8,327.3 59.7,332.3 64.7,349.7 68.4,349.7 72.2,337.3 74.7,328.6 78.4,331.0 82.1,326.1 87.1,339.8 92.1,338.5 97.1,346.0 99.6,342.2 104.5,351.0 109.5,348.5 112.0,352.2 114.5,342.2 119.5,333.5 123.2,341.0 126.9,338.5 131.9,346.0 136.9,336.0 141.9,337.3 145.6,338.5 149.3,331.0 153.1,327.3 158.0,349.7 163.0,336.0 168.0,326.1 171.7,336.0 176.7,332.3 185.4,331.0 190.4,321.1 195.4,327.3 200.3,317.4 202.8,321.1 207.8,316.1 212.8,322.3 217.8,324.8 219.0,332.3 223.0,337.3 225.5,354.7 230.0,351.0 232.9,362.2 235.4,363.4 237.4,349.7 241.2,344.7 242.9,341.7 244.9,344.7 247.4,354.7 251.1,344.7 252.4,344.2 254.8,363.4 256.8,365.1 259.8,353.4 261.8,351.0 264.8,353.4 266.8,364.1 271.0,363.4 273.5,359.7 275.3,350.2 278.5,348.5 281.7,352.2 284.7,357.7 288.4,355.9 292.2,351.7 294.7,352.7 297.7,340.3 299.6,355.2 302.1,357.2 306.6,365.1 309.6,363.4 311.6,358.4 314.6,357.2 319.1,348.5 322.5,357.2 324.5,360.9 328.3,360.9 331.5,347.2 334.5,344.7 337.0,338.5 340.7,336.0 342.4,342.2 344.4,342.7 347.4,332.3 349.9,344.7 354.4,355.9 358.1,351.0 360.6,352.7 364.4,363.4 368.1,354.7 371.3,347.2 373.8,346.0 376.3,344.2 379.3,352.2 384.3,352.2 387.2,354.7 390.5,357.2 394.2,369.6 397.2,362.2 399.7,351.7 402.9,352.2 404.7,355.9 407.2,344.7 409.6,337.3 414.1,331.0 417.1,322.3 421.1,336.0 424.6,338.5 426.1,336.0 429.1,344.7 433.5,350.2 435.3,346.0 439.0,342.7 440.0,342.2 441.5,344.2 443.7,344.7 444.0,344.2 445.5,344.2 448.7,334.8 451.9,333.5 453.7,342.2 456.2,336.0 458.7,333.5 461.2,337.3 464.4,324.3 467.9,333.5 471.1,347.2 474.8,346.0 476.8,338.5 478.6,347.2 481.8,344.7 487.3,357.2 492.3,354.7 495.3,362.2 498.5,359.7 501.7,364.1 504.2,355.9 508.4,346.0 512.2,351.0 515.9,359.7 519.6,368.4 523.4,369.6 527.1,357.2 530.1,348.5 532.6,346.0 535.8,353.4 539.6,348.5 542.5,341.0 545.8,340.3 549.5,336.0 552.5,338.5 555.0,339.3 558.2,332.3 562.0,358.4 564.4,355.2 566.9,354.7 569.4,351.7 571.9,350.2 574.9,338.5 578.1,331.0 580.6,333.5 583.9,328.6 586.8,334.3 589.3,329.8 592.3,327.8 594.8,329.3 596.8,333.5 600.5,331.0 603.0,339.8 605.5,346.0 606.7,342.2 610.5,352.2 615.5,362.2 619.2,347.2 620.0,342.2 622.5,339.3 624.5,341.7 627.0,334.8 630.0,337.3 633.7,339.3 636.9,342.2 638.7,348.5 641.9,345.2 646.1,358.4 649.4,348.5 652.4,346.0 654.3,349.2 657.3,341.7 660.3,338.5 662.8,331.0 664.8,327.8 667.3,341.0 669.8,346.0 672.3,349.2 674.3,343.5 677.2,354.7 681.0,369.6 684.2,370.9 686.0,374.1 689.7,362.2 692.7,358.4 695.9,359.7 699.1,365.9 700.9,342.2 704.1,339.8 705.9,341.7 709.6,333.5 712.6,320.3 715.1,319.3 717.6,322.8 720.8,322.3 722.5,324.3 726.5,316.1 729.5,319.3 731.5,319.3 734.0,326.8 735.7,327.8 739.0,335.3" fill="none" stroke="#9c4fcf" stroke-width="1.3" stroke-linejoin="round"/>
<rect x="722" y="64" width="1" height="8" fill="#e2edf7"/>
<line x1="886.5" y1="0" x2="886.5" y2="407" stroke="#80838c" stroke-width="1"/>
<line x1="1" y1="380.5" x2="946" y2="380.5" stroke="#80838c" stroke-width="1"/>
<g font-family="Liberation Sans, sans-serif">
<text x="896.5" y="13.1" font-size="11" fill="#50535e" font-weight="normal" textLength="19.2" lengthAdjust="spacingAndGlyphs">USD</text>
<text x="895.6" y="49.4" font-size="11" fill="#50535e" font-weight="normal" textLength="37.8" lengthAdjust="spacingAndGlyphs">12000.0</text>
<text x="895.6" y="90.0" font-size="11" fill="#50535e" font-weight="normal" textLength="37.8" lengthAdjust="spacingAndGlyphs">11000.0</text>
<text x="895.6" y="130.8" font-size="11" fill="#50535e" font-weight="normal" textLength="37.8" lengthAdjust="spacingAndGlyphs">10000.0</text>
<text x="895.4" y="300.2" font-size="11" fill="#50535e" font-weight="normal" textLength="26.3" lengthAdjust="spacingAndGlyphs">80.00</text>
<text x="895.4" y="330.4" font-size="11" fill="#50535e" font-weight="normal" textLength="26.3" lengthAdjust="spacingAndGlyphs">60.00</text>
<text x="895.4" y="360.6" font-size="11" fill="#50535e" font-weight="normal" textLength="26.3" lengthAdjust="spacingAndGlyphs">40.00</text>
<text x="32.6" y="397.0" font-size="11" fill="#50535e" font-weight="normal" textLength="17.8" lengthAdjust="spacingAndGlyphs">Mar</text>
<text x="134.6" y="397.0" font-size="11" fill="#50535e" font-weight="normal" textLength="19.4" lengthAdjust="spacingAndGlyphs">May</text>
<text x="242.0" y="397.0" font-size="11" fill="#50535e" font-weight="normal" textLength="15.2" lengthAdjust="spacingAndGlyphs">Jul</text>
<text x="345.2" y="397.0" font-size="11" fill="#50535e" font-weight="normal" textLength="18.5" lengthAdjust="spacingAndGlyphs">Sep</text>
<text x="447.6" y="397.0" font-size="11" fill="#50535e" font-weight="normal" textLength="18.8" lengthAdjust="spacingAndGlyphs">Nov</text>
<text x="648.1" y="397.0" font-size="11" fill="#50535e" font-weight="normal" textLength="18.7" lengthAdjust="spacingAndGlyphs">Mar</text>
<text x="752.5" y="397.0" font-size="11" fill="#50535e" font-weight="normal" textLength="20.1" lengthAdjust="spacingAndGlyphs">May</text>
<text x="843.0" y="397.0" font-size="11" fill="#50535e" font-weight="normal" textLength="11.6" lengthAdjust="spacingAndGlyphs">12</text>
<text x="547.4" y="397.0" font-size="11" fill="#2e3140" font-weight="normal" textLength="24.6" lengthAdjust="spacingAndGlyphs" stroke="#2e3140" stroke-width="0.35">2023</text>
<path d="M886.0 144.6H930.1Q932.6 144.6 932.6 147.1V156.4Q932.6 158.9 930.1 158.9H886.0Q886.0 158.9 886.0 158.9V144.6Q886.0 144.6 886.0 144.6Z" fill="#4caf50"/>
<text x="895.4" y="155.9" font-size="10.5" fill="#fff" font-weight="normal" textLength="32.6" lengthAdjust="spacingAndGlyphs" stroke="#fff" stroke-width="0.45">9365.3</text>
<path d="M886.0 162.2H930.1Q932.6 162.2 932.6 164.7V173.6Q932.6 176.1 930.1 176.1H886.0Q886.0 176.1 886.0 176.1V162.2Q886.0 162.2 886.0 162.2Z" fill="#4caf50"/>
<text x="895.4" y="173.3" font-size="10.5" fill="#fff" font-weight="normal" textLength="32.6" lengthAdjust="spacingAndGlyphs" stroke="#fff" stroke-width="0.45">8948.4</text>
<path d="M886.0 186.3H930.1Q932.6 186.3 932.6 188.8V197.5Q932.6 200.0 930.1 200.0H886.0Q886.0 200.0 886.0 200.0V186.3Q886.0 186.3 886.0 186.3Z" fill="#4caf50"/>
<text x="895.4" y="197.0" font-size="10.5" fill="#fff" font-weight="normal" textLength="32.6" lengthAdjust="spacingAndGlyphs" stroke="#fff" stroke-width="0.45">8350.9</text>
<path d="M886.0 232.5H930.5Q933.0 232.5 933.0 235.0V244.4Q933.0 246.9 930.5 246.9H886.0Q886.0 246.9 886.0 246.9V232.5Q886.0 232.5 886.0 232.5Z" fill="#2962ff"/>
<text x="895.7" y="243.7" font-size="10.5" fill="#fff" font-weight="normal" textLength="32.7" lengthAdjust="spacingAndGlyphs" stroke="#fff" stroke-width="0.45">7203.7</text>
<path d="M886.0 247.1H930.5Q933.0 247.1 933.0 249.6V259.3Q933.0 261.8 930.5 261.8H886.0Q886.0 261.8 886.0 261.8V247.1Q886.0 247.1 886.0 247.1Z" fill="#2962ff"/>
<text x="895.7" y="258.6" font-size="10.5" fill="#fff" font-weight="normal" textLength="32.7" lengthAdjust="spacingAndGlyphs" stroke="#fff" stroke-width="0.45">7008.9</text>
<path d="M886.0 262.7H930.5Q933.0 262.7 933.0 265.2V274.8Q933.0 277.3 930.5 277.3H886.0Q886.0 277.3 886.0 277.3V262.7Q886.0 262.7 886.0 262.7Z" fill="#2962ff"/>
<text x="895.7" y="274.1" font-size="10.5" fill="#fff" font-weight="normal" textLength="32.7" lengthAdjust="spacingAndGlyphs" stroke="#fff" stroke-width="0.45">6462.8</text>
<path d="M841.4 202.6H886.0Q886.0 202.6 886.0 202.6V217.3Q886.0 217.3 886.0 217.3H841.4Q838.9 217.3 838.9 214.8V205.1Q838.9 202.6 841.4 202.6Z" fill="#000"/>
<text x="843.1" y="213.9" font-size="10.5" fill="#fff" font-weight="normal" textLength="37.1" lengthAdjust="spacingAndGlyphs" stroke="#fff" stroke-width="0.45">WTIUSD</text>
<path d="M886.0 202.6H939.5Q942.0 202.6 942.0 205.1V226.9Q942.0 229.4 939.5 229.4H886.0Q886.0 229.4 886.0 229.4V202.6Q886.0 202.6 886.0 202.6Z" fill="#000"/>
<text x="896.0" y="213.9" font-size="10.5" fill="#fff" font-weight="normal" textLength="32.1" lengthAdjust="spacingAndGlyphs" stroke="#fff" stroke-width="0.45">7934.0</text>
<text x="896.0" y="226.9" font-size="10.5" fill="#d6d6d6" font-weight="normal" textLength="41.6" lengthAdjust="spacingAndGlyphs" stroke="#d6d6d6" stroke-width="0.45">15:46:02</text>
<path d="M1.3 419H7.9V428H4.5V422H1.3Z" fill="#131722"/>
<circle cx="12.1" cy="420.6" r="1.9" fill="#131722"/>
<path d="M15.8 419H20.2L15.5 428H11Z" fill="#131722"/>
<text x="23.6" y="429.5" font-size="14.5" fill="#131722" font-weight="normal" textLength="69.0" lengthAdjust="spacingAndGlyphs">TradingView</text>
</g>
</svg>
</body></html>
